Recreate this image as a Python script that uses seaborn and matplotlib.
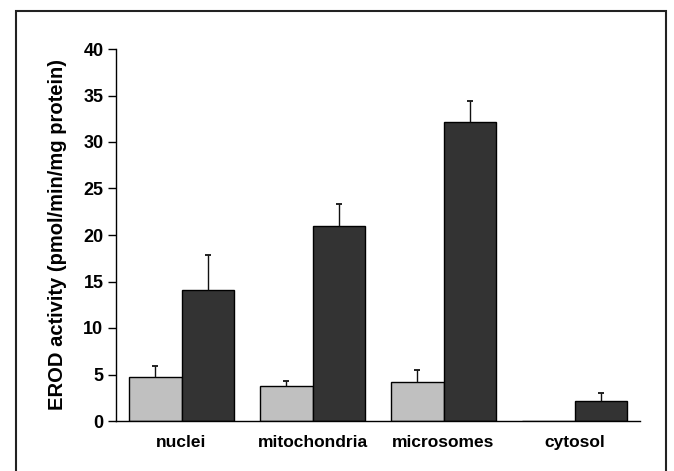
import matplotlib
matplotlib.use("Agg")
import matplotlib.pyplot as plt
import seaborn as sns
import pandas as pd
import numpy as np
from matplotlib.patches import Rectangle
from matplotlib import font_manager

categories = ["nuclei", "mitochondria", "microsomes", "cytosol"]
groups = ["control", "treated"]
control_vals = [4.7, 3.8, 4.2, 0.0]
control_err = [1.2, 0.5, 1.3, 0.0]
treated_vals = [14.1, 21.0, 32.2, 2.2]
treated_err = [3.7, 2.3, 2.2, 0.8]
yticks = [0, 5, 10, 15, 20, 25, 30, 35, 40]

sns.set_theme(style="white")
names = {f.name for f in font_manager.fontManager.ttflist}
narrow = None
for cand in ["Liberation Sans Narrow", "DejaVu Sans Condensed"]:
    if cand in names:
        narrow = cand
        break
if narrow:
    plt.rcParams['font.family'] = [narrow, 'DejaVu Sans']
    sx, sy, sl = 15, 13.5, 15
else:
    plt.rcParams['font.family'] = ['Liberation Sans', 'DejaVu Sans']
    sx, sy, sl = 12.5, 13, 14.5
plt.rcParams['text.color'] = 'black'
plt.rcParams['xtick.color'] = 'black'
plt.rcParams['ytick.color'] = 'black'
plt.rcParams['axes.labelcolor'] = 'black'

df = pd.DataFrame({
    "fraction": categories * 2,
    "group": [groups[0]] * 4 + [groups[1]] * 4,
    "value": control_vals + treated_vals,
})
errs = {groups[0]: control_err, groups[1]: treated_err}

fig = plt.figure(figsize=(6.74, 4.71), dpi=100)
ax = fig.add_axes([116/674, 1 - 421/471, (640 - 116)/674, (421 - 49)/471])

sns.barplot(data=df, x="fraction", y="value", hue="group", order=categories,
            hue_order=groups, palette=["#c0c0c0", "#333333"], errorbar=None,
            edgecolor="black", linewidth=1.0, width=0.8, gap=0, ax=ax, legend=False)

for cont, g in zip(ax.containers, groups):
    for patch, e in zip(cont.patches, errs[g]):
        if e <= 0:
            continue
        xc = patch.get_x() + patch.get_width() / 2
        h = patch.get_height()
        ax.vlines(xc, h, h + e, color="#111111", linewidth=1.0, zorder=1)
        ax.plot([xc], [h + e], marker="_", markersize=5, markeredgewidth=1.3,
                color="#111111", zorder=1)

ax.set_xlim(-0.5, 3.5)
ax.set_ylim(0, 40)
ax.set_yticks(yticks)
ax.set_yticklabels([str(t) for t in yticks], fontsize=sy, fontweight="bold")
ax.set_xticks(range(len(categories)))
ax.set_xticklabels(categories, fontsize=sx, fontweight="bold")
ax.set_xticks([0.5, 1.5, 2.5, 3.5], minor=True)
ax.tick_params(axis="x", which="major", length=0, pad=10)
ax.tick_params(axis="x", which="minor", length=5, direction="in", width=1, color="black")
ax.tick_params(axis="y", which="major", length=6, direction="out", width=1, color="black", pad=3, left=True)
ax.set_xlabel("")
ax.set_ylabel("EROD activity (pmol/min/mg protein)", fontsize=sl, fontweight="bold", labelpad=12)
for s in ["top", "right"]:
    ax.spines[s].set_visible(False)
for s in ["left", "bottom"]:
    ax.spines[s].set_color("black")
    ax.spines[s].set_linewidth(1.0)

fig.patches.append(Rectangle((16/674, -0.05), (666 - 16)/674, 1.05 - 11/471,
                             transform=fig.transFigure, fill=False,
                             edgecolor="#222222", linewidth=1.5))

fig.savefig("out.png", dpi=100)
